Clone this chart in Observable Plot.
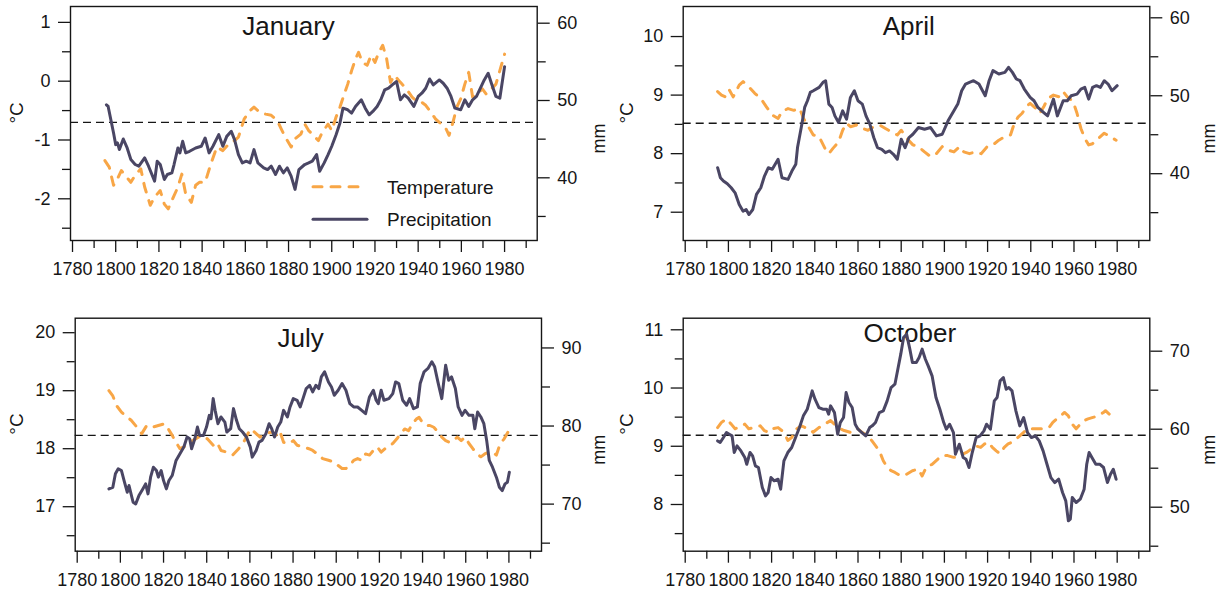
<!DOCTYPE html>
<html>
<head>
<meta charset="utf-8">
<script src="https://cdn.jsdelivr.net/npm/d3@7"></script>
<script src="https://cdn.jsdelivr.net/npm/@observablehq/plot@0.6"></script>
<style>
  html, body { margin: 0; padding: 0; background: #fff; }
  #root { position: relative; width: 1220px; height: 592px; overflow: hidden; background: #fff;
          font-family: "Liberation Sans", Arial, Helvetica, sans-serif; }
</style>
</head>
<body>
<div id="root"></div>
<script>
// ---------------- data ----------------
const xMajorTicks = [1780, 1800, 1820, 1840, 1860, 1880, 1900, 1920, 1940, 1960, 1980];
const xMinorTicks = [1790, 1810, 1830, 1850, 1870, 1890, 1910, 1930, 1950, 1970, 1990];

const seriesNames = ["Temperature", "Precipitation"];
const monthTitles = ["January", "April", "July", "October"];
const meanTemps = [-0.70, 8.52, 18.23, 9.19];

// January
const janTempYears = [1795,1797,1799,1800.8,1802.6,1804.4,1807,1809,1811.6,1813.4,1816,1818,1820.6,1822.5,1824.3,1826,1828.8,1830.6,1832.4,1835,1837,1838.7,1841.4,1844,1846.8,1849.6,1852.3,1855,1856.8,1859.5,1862.2,1864,1866.7,1869.4,1872,1874.8,1876.6,1878.5,1881.2,1883,1885.7,1887.5,1889.3,1891,1893.8,1895.6,1898.3,1900,1902,1903.8,1905.6,1907.4,1909.2,1911,1912.4,1914.2,1916.4,1918.2,1920,1921.8,1923.6,1925.4,1927.2,1929,1931.8,1934.5,1937.2,1939,1941.7,1943.5,1945.3,1948,1949.8,1952.5,1954.3,1956.1,1957.9,1959.7,1961.6,1963.4,1965.2,1967,1969.7,1971.5,1973.9,1976,1977.8,1980];
const janTemp = [-1.35,-1.46,-1.77,-1.66,-1.52,-1.6,-1.72,-1.6,-1.49,-1.8,-2.11,-1.97,-1.86,-2.09,-2.17,-2.03,-1.8,-1.58,-1.92,-2.06,-1.77,-1.72,-1.72,-1.41,-1.12,-1.18,-1.07,-1.01,-0.95,-0.64,-0.5,-0.44,-0.53,-0.56,-0.58,-0.67,-0.81,-0.95,-1.12,-0.98,-0.9,-0.73,-0.84,-0.9,-1.01,-0.87,-0.73,-0.84,-0.61,-0.44,-0.24,-0.05,0.18,0.38,0.49,0.32,0.27,0.44,0.32,0.49,0.61,0.38,-0.02,0.1,-0.02,-0.13,-0.27,-0.33,-0.36,-0.41,-0.5,-0.64,-0.7,-0.78,-0.92,-0.7,-0.44,-0.3,-0.05,0.15,-0.27,-0.24,-0.13,-0.22,-0.13,-0.05,0.18,0.46];
const janPrecYears = [1795.7,1796.5,1799,1800,1800.8,1801.7,1803.5,1805.3,1807,1809,1810.7,1813.4,1815.2,1818,1819.2,1820.6,1822.5,1823.9,1826,1827,1828.8,1829.7,1831,1832.4,1834.2,1837,1839.6,1841.4,1843.2,1845,1847.7,1849.6,1851.4,1853.5,1855,1856.8,1858.6,1860.4,1862.2,1864,1865.8,1868.5,1870.3,1872,1874,1875.8,1877.6,1879.4,1881.2,1883,1884.8,1887.5,1889.3,1891,1893,1894.4,1896.5,1898.3,1900,1902,1903.8,1905.2,1907.4,1909.2,1911,1913.7,1915.5,1917.3,1919,1921,1922.7,1924.5,1926.3,1928,1930,1931.8,1933.6,1935.4,1938,1940,1941.7,1943.5,1945.3,1947,1949.8,1951.6,1953.4,1955.2,1957,1959.7,1961.6,1963.4,1965.2,1967,1968.8,1970.6,1972.4,1973.9,1976,1977.8,1980];
const janPrec = [49.44,49.23,45.79,44.29,44.51,43.65,45.02,43.86,42.36,41.72,41.5,42.58,41.5,39.57,42.15,41.72,39.79,40.43,40.64,41.72,43.86,43.22,44.72,43.22,43.43,43.86,44.08,45.15,43.22,44.08,45.58,44.08,45.36,46.01,44.94,43.0,41.93,42.15,41.93,43.65,41.93,41.29,41.07,41.5,40.43,41.5,40.64,41.29,40.21,38.5,41.07,41.72,41.93,42.15,43.0,40.86,41.93,43.0,44.08,45.58,47.08,49.01,48.8,48.37,49.23,50.09,49.01,48.15,48.58,49.23,50.09,51.37,51.59,52.02,52.45,50.09,50.73,50.3,49.23,50.52,50.94,51.59,52.79,52.02,52.66,52.23,51.59,50.52,49.01,48.8,50.09,49.23,50.09,50.52,51.59,52.66,53.52,52.23,50.52,50.3,54.38];

// April
const aprTempYears = [1795,1796.8,1798.6,1800.4,1802.2,1805,1806.8,1809.5,1812.2,1815,1817.6,1820.3,1823,1824.8,1827.6,1830.3,1833,1834.8,1836.6,1839.3,1842,1844.7,1846.5,1848.4,1851,1852.9,1854.7,1856.5,1859.2,1862,1864.6,1867.3,1870,1872.7,1875.5,1878.2,1880,1882.7,1885.4,1888,1890.8,1893.6,1896.3,1899,1901.7,1904.4,1907.1,1909,1911.6,1914.4,1917,1919.8,1922.5,1925.2,1928,1930.6,1932.4,1934.2,1936,1937.9,1939.7,1942.4,1944.2,1946,1947.8,1950.5,1953.2,1955,1956.9,1959.6,1961.4,1963.2,1965,1966.8,1968.6,1971.3,1974,1976.7,1979.5];
const aprTemp = [9.06,9.0,8.97,9.09,8.97,9.17,9.23,9.14,9.03,8.94,8.8,8.66,8.6,8.72,8.77,8.74,8.77,8.6,8.49,8.32,8.29,8.09,8.0,8.09,8.2,8.4,8.52,8.46,8.49,8.43,8.4,8.46,8.49,8.43,8.37,8.32,8.4,8.26,8.15,8.12,8.03,7.95,8.0,8.12,8.06,8.03,8.12,8.03,8.0,8.03,8.0,8.12,8.15,8.23,8.29,8.32,8.52,8.63,8.69,8.8,8.86,8.77,8.69,8.8,8.94,9.0,8.97,9.06,8.97,8.89,8.69,8.43,8.26,8.15,8.17,8.26,8.35,8.29,8.23];
const aprPrecYears = [1795,1796.3,1797.7,1799.5,1801.3,1803.1,1805,1806.8,1808.2,1809.5,1811.3,1813,1815,1816.7,1818.5,1820.3,1823,1824.8,1827.6,1829.4,1831.2,1832,1834,1835.3,1836.6,1837.9,1839.3,1842,1843.8,1845,1846.5,1848,1849.3,1851,1852.9,1854.7,1856.5,1858.3,1860,1862,1863.7,1865.5,1867.3,1869,1871,1872.7,1874.6,1876.4,1878.2,1880,1881.8,1883.6,1885.4,1888,1890.8,1893.6,1896.3,1899,1901.7,1904.4,1906.2,1908,1909.8,1911.6,1913.5,1916,1918.9,1920.7,1922.5,1925.2,1928,1929.7,1931.5,1933.3,1935,1937,1939.7,1941.5,1943.3,1946,1947.8,1950.5,1952.3,1955,1956.9,1958.7,1961.4,1963.2,1965,1966.8,1968.6,1970.4,1972.2,1974,1975.8,1977.6,1980];
const aprPrec = [40.77,39.48,39.06,38.71,38.2,37.55,36.05,35.19,35.41,34.76,35.41,37.34,38.2,39.7,40.77,40.56,41.85,39.48,39.27,40.34,41.2,43.35,46.35,48.5,49.36,50.43,50.64,51.07,51.72,51.93,48.93,48.5,47.42,46.57,48.07,47.0,49.79,50.64,49.36,48.93,47.42,46.35,44.64,43.35,43.13,42.7,42.92,42.49,41.85,44.42,43.35,44.64,45.06,45.92,45.71,45.92,44.85,45.06,46.78,48.07,48.93,50.64,51.5,51.72,51.93,51.5,50.0,51.93,53.22,52.79,53.0,53.65,53.0,52.15,51.93,50.86,49.79,49.36,48.5,47.85,47.42,49.57,47.42,49.36,49.36,50.0,50.21,50.86,51.07,49.57,51.07,51.29,51.07,51.93,51.5,50.64,51.29];

// July
const julTempYears = [1794.7,1796.5,1798.3,1800.5,1802.3,1805,1807.7,1809.9,1812.2,1814.9,1817.6,1820.4,1822.2,1824,1825.8,1827.6,1829.4,1832.1,1834.8,1837.6,1840.3,1843,1844.8,1846.6,1849.3,1852,1854.8,1857.5,1860.2,1862,1864.7,1867.4,1870.1,1872,1873.8,1875.6,1878.3,1880.1,1881.9,1884.6,1887.3,1889.1,1891.9,1893.7,1896.4,1899.1,1900.9,1902.7,1904.5,1906.3,1908.1,1909.9,1911.8,1913.6,1915.4,1917.2,1919,1920.8,1922.6,1924.4,1926.2,1928.1,1929.9,1931.7,1933.5,1935.3,1937.1,1938.4,1939.8,1941.6,1943.4,1945.2,1947.1,1948.9,1950.7,1952.5,1954.3,1956.1,1957.9,1959.7,1961.5,1963.3,1965.2,1967,1968.8,1970.6,1972.4,1974.2,1976,1977.8,1979.6];
const julTemp = [19.0,18.91,18.74,18.63,18.57,18.49,18.37,18.26,18.4,18.37,18.4,18.43,18.34,18.23,18.11,18.0,18.03,18.11,18.17,18.23,18.17,18.06,18.11,17.97,17.94,17.89,18.0,18.14,18.34,18.29,18.2,18.26,18.29,18.23,18.31,18.11,18.09,18.14,18.06,18.03,18.0,17.97,17.89,17.83,17.8,17.77,17.71,17.66,17.66,17.71,17.8,17.83,17.8,17.91,17.89,17.97,18.03,17.94,18.0,18.03,18.09,18.17,18.26,18.34,18.31,18.43,18.51,18.54,18.46,18.4,18.4,18.37,18.29,18.2,18.14,18.11,18.14,18.2,18.14,18.2,18.09,18.0,17.91,17.86,17.91,17.94,17.94,17.89,18.09,18.17,18.29];
const julPrecYears = [1794.7,1796.5,1797.7,1799,1800.5,1801.9,1803.2,1804,1805.9,1807.1,1808.6,1810.4,1811.7,1812.8,1814,1815.3,1816.7,1817.6,1818.9,1820,1821.3,1822.5,1824,1825.8,1827.6,1829.4,1830.9,1832.1,1833,1834.5,1835.7,1836.7,1838.5,1839.9,1841.2,1842,1843,1843.9,1845.2,1846.6,1848.4,1849.3,1851.1,1852.4,1853.8,1855.1,1856.6,1858.4,1860.2,1861.1,1862.9,1864.2,1865.6,1867.4,1868.9,1870.1,1871.4,1872.9,1874.3,1875.6,1877.4,1878.6,1880.1,1881.9,1883.3,1884.6,1886.1,1887.7,1889.1,1890.6,1891.9,1893.1,1894.6,1896.4,1897.8,1899.1,1900.9,1902.7,1904.5,1906.3,1908.1,1909.9,1911.8,1913.6,1915.4,1917.2,1918.5,1919.5,1920.8,1922.1,1924.4,1926.2,1927.5,1929,1930.8,1932.6,1934,1935.8,1937.6,1938.9,1940.7,1942.5,1944.3,1945.6,1947.1,1948.9,1950.7,1952.1,1953.4,1955.2,1956.5,1958.3,1959.7,1961.5,1963.3,1964.2,1965.5,1967,1968.4,1969.7,1970.9,1972.4,1974.2,1975.6,1976.9,1978.2,1979.3,1980.2];
const julPrec = [71.95,72.16,73.88,74.52,74.3,72.81,71.52,72.38,70.24,70.02,71.09,71.95,72.59,71.31,73.45,74.73,74.3,73.45,74.3,73.02,71.95,73.02,73.66,75.59,76.45,77.3,78.59,78.37,77.09,78.37,79.87,78.8,78.8,79.87,81.37,80.94,83.51,82.01,80.3,81.16,80.51,79.23,79.66,82.23,80.73,79.66,79.23,78.59,77.3,76.02,76.87,77.94,78.16,79.01,80.3,79.66,78.59,79.87,80.51,82.01,81.16,82.44,83.51,83.3,82.44,83.51,84.8,85.22,84.37,85.22,84.8,86.3,86.94,85.65,85.01,83.94,84.58,85.44,84.58,82.87,82.44,82.44,82.01,81.58,83.73,84.58,83.3,82.87,84.58,83.3,83.51,84.15,85.65,85.44,83.3,82.66,83.51,82.23,82.44,85.44,86.94,87.37,88.22,87.58,85.65,83.51,87.79,85.87,86.3,84.8,82.44,81.37,82.01,81.37,81.37,79.66,81.8,81.16,80.3,78.16,75.59,74.73,73.45,72.16,71.73,72.59,72.81,74.09];

// October
const octTempYears = [1795,1796.8,1799.1,1801.3,1803.1,1805.8,1807.6,1809.4,1812.1,1814.8,1816.6,1818.4,1820.2,1823,1825.7,1827.5,1829.3,1831.6,1833.8,1835.6,1837.4,1839.2,1841.9,1844.6,1847.3,1849.1,1851.8,1853.6,1856.4,1858.2,1860,1861.8,1864.5,1866.3,1868.1,1869.9,1871.7,1873.5,1875.3,1877.1,1879.8,1882.5,1885.2,1887.9,1889.7,1891.6,1894.3,1897,1898.8,1901.5,1904.2,1906.9,1908.7,1910.5,1912.3,1914.1,1916.8,1918.6,1920.4,1922.2,1924,1925.8,1927.7,1929.5,1931.3,1933.1,1934.9,1936.7,1938.5,1940.3,1943,1945.7,1948.4,1950.2,1952,1953.8,1955.6,1957.4,1959.2,1961,1962.9,1964.7,1966.5,1969.2,1971.9,1973.7,1974.6,1976.4,1978.2,1979.5];
const octTemp = [9.32,9.41,9.47,9.38,9.3,9.35,9.38,9.3,9.32,9.35,9.27,9.24,9.3,9.32,9.24,9.1,9.15,9.3,9.35,9.32,9.3,9.24,9.32,9.38,9.44,9.38,9.3,9.27,9.24,9.3,9.3,9.24,9.18,9.1,9.01,8.92,8.75,8.64,8.58,8.55,8.49,8.52,8.58,8.61,8.49,8.64,8.69,8.78,8.84,8.84,8.81,8.81,8.87,8.9,8.95,9.01,8.98,9.04,9.07,8.98,8.92,8.87,8.98,9.04,9.07,9.12,9.18,9.24,9.3,9.3,9.3,9.3,9.32,9.41,9.47,9.52,9.58,9.52,9.38,9.3,9.38,9.44,9.47,9.5,9.55,9.58,9.61,9.55,9.5,9.47];
const octPrecYears = [1795,1796.2,1797.7,1799.1,1800.4,1801.7,1802.7,1804,1805.8,1807.6,1808.5,1810,1811.2,1812.5,1813.9,1815.7,1817.2,1818.4,1819.7,1821.2,1823,1824.2,1825.7,1827.5,1829.3,1831.1,1832.9,1834.7,1836.5,1837.8,1838.8,1840.1,1841.9,1843.7,1845.5,1846.4,1847.3,1849.1,1850.6,1851.8,1853.3,1854.5,1855.8,1857.3,1858.7,1860,1861.8,1863.6,1865.4,1866.6,1868.1,1869.9,1871.7,1873.5,1875.3,1877.1,1878.6,1879.8,1881.1,1882.5,1884,1885.2,1887,1888.3,1889.7,1891.2,1892.5,1894.3,1896.1,1897.9,1899.7,1900.9,1902.4,1904.2,1905.1,1906.9,1908.7,1910,1911.4,1912.9,1914.7,1916.5,1918.3,1919.5,1921.3,1923.1,1924.4,1925.8,1927.3,1928.6,1929.8,1931.3,1933.1,1934.9,1936.7,1938.5,1940.3,1942.1,1943.9,1945.7,1947.5,1949.3,1951.1,1952.9,1954.7,1956.2,1957.4,1958.3,1959.2,1961,1962.9,1964.7,1965.9,1967,1968.3,1970.1,1971.9,1973.7,1975.5,1976.9,1978.2,1979.5];
const octPrec = [58.5,58.29,58.93,59.57,59.36,59.15,57.01,57.86,57.22,56.37,55.51,57.01,56.58,55.3,55.09,52.52,51.45,51.88,53.8,53.38,53.59,52.31,55.94,57.01,57.65,58.93,60.21,61.71,62.56,63.85,64.91,63.85,62.78,62.56,62.56,61.92,62.99,62.14,59.36,60.85,61.5,64.7,63.42,62.78,60.64,60.0,59.57,59.15,60.21,60.43,60.85,62.14,62.35,63.63,65.34,65.77,67.91,69.62,71.75,72.18,70.26,68.55,68.55,69.19,70.26,68.97,68.12,66.84,64.06,62.56,60.85,60.0,60.64,59.57,56.79,58.08,56.37,56.15,55.09,57.01,58.93,59.15,59.79,60.64,60.0,63.63,64.06,66.2,66.62,65.13,65.34,64.91,62.35,60.43,61.5,59.57,58.93,59.15,58.5,57.22,55.51,53.8,53.16,53.59,51.88,50.81,48.25,48.46,51.24,50.6,51.03,52.31,55.51,57.01,56.37,55.51,55.51,55.09,53.16,54.23,54.87,53.59];

// axis tick values (°C left, mm right)
const janTempMajor = [-2, -1, 0, 1],  janTempMinor = [-2.5, -1.5, -0.5, 0.5];
const aprTempMajor = [7, 8, 9, 10],   aprTempMinor = [7.5, 8.5, 9.5];
const julTempMajor = [17, 18, 19, 20], julTempMinor = [16.5, 17.5, 18.5, 19.5];
const octTempMajor = [8, 9, 10, 11],  octTempMinor = [7.5, 8.5, 9.5, 10.5];
const janPrecMajor = [40, 50, 60], janPrecMinor = [35, 45, 55];
const aprPrecMajor = [40, 50, 60], aprPrecMinor = [35, 45, 55];
const julPrecMajor = [70, 80, 90], julPrecMinor = [65, 75, 85];
const octPrecMajor = [50, 60, 70], octPrecMinor = [45, 55, 65];

// ---------------- styling / layout ----------------
const FONT = '"Liberation Sans", Arial, Helvetica, sans-serif';
const INK = "#161616";
const ORANGE = "#F8A646";
const PURPLE = "#4A4664";
const W = 610, H = 296;
const xDomain = [1779.07, 1995.1];

const panels = [
  {title: monthTitles[0], tYears: janTempYears, t: janTemp, pYears: janPrecYears, p: janPrec, mean: meanTemps[0],
   tDomain: [-2.709, 1.270], pDomain: [31.89, 62.16], tMajor: janTempMajor, tMinor: janTempMinor,
   pMajor: janPrecMajor, pMinor: janPrecMinor, titleX: 1880,
   left: 0, top: 0, mL: 70, mR: 73.3, mT: 6, mB: 56, titleDy: 10.5},
  {title: monthTitles[1], tYears: aprTempYears, t: aprTemp, pYears: aprPrecYears, p: aprPrec, mean: meanTemps[1],
   tDomain: [6.517, 10.513], pDomain: [31.43, 61.45], tMajor: aprTempMajor, tMinor: aprTempMinor,
   pMajor: aprPrecMajor, pMinor: aprPrecMinor, titleX: 1883.5,
   left: 610, top: 0, mL: 72.7, mR: 70.7, mT: 6, mB: 56, titleDy: 10.5},
  {title: monthTitles[2], tYears: julTempYears, t: julTemp, pYears: julPrecYears, p: julPrec, mean: meanTemps[2],
   tDomain: [16.233, 20.25], pDomain: [63.97, 93.81], tMajor: julTempMajor, tMinor: julTempMinor,
   pMajor: julPrecMajor, pMinor: julPrecMinor, titleX: 1883.5,
   left: 0, top: 296, mL: 74.7, mR: 69, mT: 21.7, mB: 41.3, titleDy: 10.5},
  {title: monthTitles[3], tYears: octTempYears, t: octTemp, pYears: octPrecYears, p: octPrec, mean: meanTemps[3],
   tDomain: [7.198, 11.199], pDomain: [44.36, 74.23], tMajor: octTempMajor, tMinor: octTempMinor,
   pMajor: octPrecMajor, pMinor: octPrecMinor, titleX: 1884,
   left: 610, top: 296, mL: 72.7, mR: 70.7, mT: 21.7, mB: 41.3, titleDy: 5.3}
];

const root = document.getElementById("root");
const fmt = (d) => String(d);
const blank = () => "";

function place(svg, p) {
  svg.style.position = "absolute";
  svg.style.left = p.left + "px";
  svg.style.top = p.top + "px";
  svg.style.maxWidth = "none";
  root.appendChild(svg);
}

for (const p of panels) {
  const common = {
    width: W, height: H,
    marginLeft: p.mL, marginRight: p.mR, marginTop: p.mT, marginBottom: p.mB
  };
  const temp = Plot.plot({
    ...common,
    style: {fontFamily: FONT, fontSize: "18px", color: INK, background: "#fff", overflow: "visible"},
    x: {domain: xDomain},
    y: {domain: p.tDomain},
    marks: [
      Plot.axisX(xMinorTicks, {tickSize: 8, tickFormat: blank, strokeWidth: 1.3, label: null}),
      Plot.axisX(xMajorTicks, {tickSize: 12, tickPadding: 10, tickFormat: fmt, strokeWidth: 1.3, label: null}),
      Plot.axisY(p.tMinor, {tickSize: 8, tickFormat: blank, strokeWidth: 1.3, label: null}),
      Plot.axisY(p.tMajor, {tickSize: 12, tickPadding: 8, tickFormat: fmt, strokeWidth: 1.3, label: null}),
      Plot.ruleY([p.mean], {stroke: INK, strokeWidth: 1.4, strokeDasharray: "8,5"}),
      Plot.line(p.t, {x: p.tYears, y: p.t, stroke: ORANGE, strokeWidth: 3,
                      strokeDasharray: "9,9", strokeLinecap: "round", strokeLinejoin: "round"}),
      Plot.text([p.title], {x: [p.titleX], frameAnchor: "top", lineAnchor: "top", dy: p.titleDy,
                            fontSize: 26, fill: INK}),
      Plot.text(["°C"], {frameAnchor: "left", dx: 16 - p.mL, rotate: -90, fontSize: 19, fill: INK}),
      Plot.frame({stroke: INK, strokeWidth: 1.4})
    ]
  });
  place(temp, p);

  const prec = Plot.plot({
    ...common,
    style: {fontFamily: FONT, fontSize: "18px", color: INK, background: "transparent", overflow: "visible"},
    x: {domain: xDomain, axis: null},
    y: {domain: p.pDomain},
    marks: [
      Plot.axisY(p.pMinor, {anchor: "right", tickSize: 8, tickFormat: blank, strokeWidth: 1.3, label: null}),
      Plot.axisY(p.pMajor, {anchor: "right", tickSize: 12, tickPadding: 8, tickFormat: fmt, strokeWidth: 1.3, label: null}),
      Plot.line(p.p, {x: p.pYears, y: p.p, stroke: PURPLE, strokeWidth: 3,
                      strokeLinecap: "round", strokeLinejoin: "round"}),
      Plot.text(["mm"], {frameAnchor: "right", dx: 599 - (W - p.mR), rotate: -90, fontSize: 18, fill: INK})
    ]
  });
  place(prec, p);
}

// legend (January panel)
const NS = "http://www.w3.org/2000/svg";
const leg = document.createElementNS(NS, "svg");
leg.setAttribute("width", W); leg.setAttribute("height", H);
leg.style.position = "absolute"; leg.style.left = "0px"; leg.style.top = "0px";
leg.style.pointerEvents = "none";
const legendItems = [
  {name: seriesNames[0], color: ORANGE, dash: "9,9", cy: 186.7, x2: 360},
  {name: seriesNames[1], color: PURPLE, dash: null, cy: 219.3, x2: 367}
];
for (const it of legendItems) {
  const ln = document.createElementNS(NS, "line");
  ln.setAttribute("x1", 313); ln.setAttribute("x2", it.x2);
  ln.setAttribute("y1", it.cy); ln.setAttribute("y2", it.cy);
  ln.setAttribute("stroke", it.color); ln.setAttribute("stroke-width", 3);
  ln.setAttribute("stroke-linecap", "round");
  if (it.dash) ln.setAttribute("stroke-dasharray", it.dash);
  leg.appendChild(ln);
  const tx = document.createElementNS(NS, "text");
  tx.setAttribute("x", 387); tx.setAttribute("y", it.cy + 7);
  tx.setAttribute("font-family", FONT); tx.setAttribute("font-size", 19);
  tx.setAttribute("fill", INK);
  tx.textContent = it.name;
  leg.appendChild(tx);
}
root.appendChild(leg);
</script>
</body>
</html>
